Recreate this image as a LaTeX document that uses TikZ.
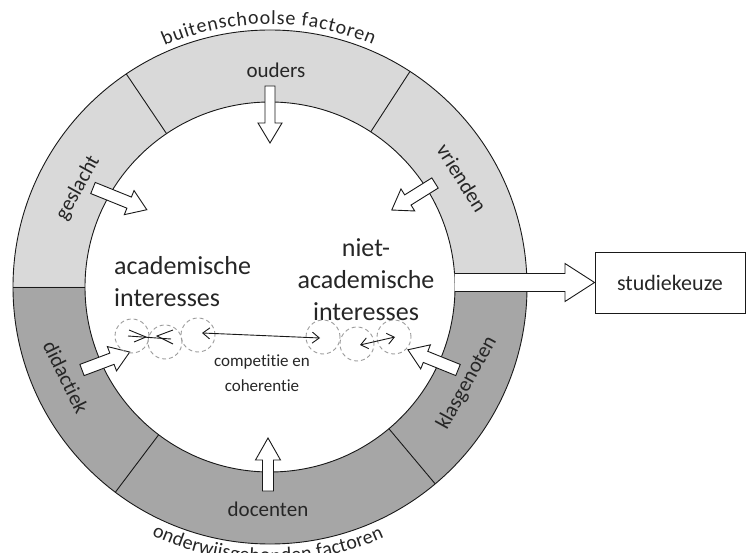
\documentclass[tikz,border=0pt]{standalone}
\usepackage{fontspec}
\setmainfont{Carlito}[Ligatures={NoCommon}]
\usetikzlibrary{decorations.text,calc,arrows.meta}
\definecolor{lightring}{HTML}{D9D9D9}
\definecolor{darkring}{HTML}{A6A6A6}
\definecolor{txt}{HTML}{262626}
\definecolor{dashc}{HTML}{9A9A9A}
\tikzset{
  lbl/.style={text=txt, inner sep=0pt, font=\fontsize{21}{25}\selectfont},
  bigtxt/.style={text=txt, inner sep=0pt, font=\fontsize{26}{32}\selectfont},
  smalltxt/.style={text=txt, inner sep=0pt, font=\fontsize{17}{25}\selectfont},
  arctxt/.style={font=\fontsize{20}{24}\selectfont},
  ringline/.style={draw=black!90, line width=0.9pt},
  arrowbox/.style={draw=black!90, fill=white, line width=0.9pt, line join=miter},
  dcirc/.style={circle, draw=dashc, dash pattern=on 4pt off 3pt, line width=0.9pt, minimum size=34pt, inner sep=0pt},
  thinarrow/.style={draw=black!90, line width=0.9pt, {Straight Barb[length=7pt,width=11pt]}-{Straight Barb[length=7pt,width=11pt]}},
  pics/barrow/.style args={#1/#2/#3/#4}{code={
    \path[arrowbox] (0,-#2) -- ({#1-#4},-#2) -- ({#1-#4},-#3) -- (#1,0) -- ({#1-#4},#3) -- ({#1-#4},#2) -- (0,#2) -- cycle;}}
}
\begin{document}
\begin{tikzpicture}[x=1pt,y=1pt]
\useasboundingbox (0,0) rectangle (747,552);
\coordinate (C) at (270,265);
\def\Ro{257}
\def\Ri{185}
% curved texts
\path[arctxt, decorate, decoration={text along path, text={|\fontsize{20}{24}\selectfont|buitenschoolse factoren}, text align=fit to path, text color=txt}]
  ([shift={(113.6:263)}]C) arc[start angle=113.6, end angle=67.0, radius=263];
\path[arctxt, decorate, decoration={text along path, text={|\fontsize{20}{24}\selectfont|onderwijsgebonden factoren}, text align=fit to path, text color=txt}]
  ([shift={(-115.5:275)}]C) arc[start angle=-115.5, end angle=-65.5, radius=275];
% ring
\fill[lightring] ([shift={(0:\Ro)}]C) arc[start angle=0, end angle=180, radius=\Ro]
  -- ([shift={(180:\Ri)}]C) arc[start angle=180, end angle=0, radius=\Ri] -- cycle;
\fill[darkring] ([shift={(180:\Ro)}]C) arc[start angle=180, end angle=360, radius=\Ro]
  -- ([shift={(0:\Ri)}]C) arc[start angle=360, end angle=180, radius=\Ri] -- cycle;
\draw[ringline] (C) circle[radius=\Ro];
\draw[ringline] (C) circle[radius=\Ri];
\foreach \a in {180,124,57,-50,-127}
  \draw[ringline] ([shift={(\a:\Ri)}]C) -- ([shift={(\a:\Ro)}]C);
% ring labels
\node[lbl] (ouders) at (276,482) {ouders};
\node[lbl] (docenten) at (268,43) {docenten};
\node[lbl, rotate=61] (geslacht) at (78,364) {geslacht};
\node[lbl, rotate=-58] (vrienden) at (462,374) {vrienden};
\node[lbl, rotate=-64] (didactiek) at (66,175) {didactiek};
\node[lbl, rotate=61] (klasgenoten) at (467,169) {klasgenoten};
% block arrows
\pic[rotate=-90] at (270,466) {barrow=57/5/12/20};
\pic[rotate=90] at (268,61) {barrow=53/5.5/12.5/22};
\pic[rotate=-22] at (93,364) {barrow=58/6/13/19};
\pic[rotate=212] at (435,369) {barrow=51/6/13/19};
\pic[rotate=20.6] at (82,182) {barrow=51/6/13/19};
\pic[rotate=158] at (458,182) {barrow=54/6/13/19};
% inner texts
\node[bigtxt, align=left, anchor=west] (acad) at (114,270) {academische\\interesses};
\node[bigtxt, align=center] (niet) at (366,272) {niet-\\academische\\interesses};
\node[smalltxt, align=center] (comp) at (262,179) {competitie en\\coherentie};
% dashed circles
\node[dcirc] (L1) at (132,216) {};
\node[dcirc] (L2) at (165,210) {};
\node[dcirc] (L3) at (198,217) {};
\node[dcirc] (R1) at (323,215) {};
\node[dcirc] (R2) at (357,208) {};
\node[dcirc] (R3) at (394,215) {};
% interaction arrows
\draw[thinarrow] ($(L3.center)+(4,2)$) -- ($(R1.center)+(-3,-1)$);
\draw[thinarrow] ($(R2.center)+(3,-1)$) -- ($(R3.center)+(1,0)$);
\draw[draw=black!90, line width=0.9pt] ($(L1.center)+(-4,0)$) -- ($(L2.center)+(6,3)$);
\draw[draw=black!90, line width=0.9pt] ($(L1.center)+(-3,6)$) -- ($(L1.center)+(14,-1)$) -- ($(L1.center)+(2,-6)$);
\draw[draw=black!90, line width=0.9pt] ($(L2.center)+(8,12)$) -- ($(L2.center)+(-8,6)$) -- ($(L2.center)+(8,-2)$);
% output
\node[draw=black!90, line width=0.9pt, minimum width=150pt, minimum height=61pt, inner sep=0pt, text=txt, font=\fontsize{22}{26}\selectfont] (studie) at (670,269.5) {studiekeuze};
\path[fill=white, draw=black!90, line width=0.9pt, line join=miter]
  (454.6,278.5) -- (565,278.5) -- (565,288.5) -- (studie.west) -- (565,250.5) -- (565,260.5) -- (454.9,260.5);
\end{tikzpicture}
\end{document}
